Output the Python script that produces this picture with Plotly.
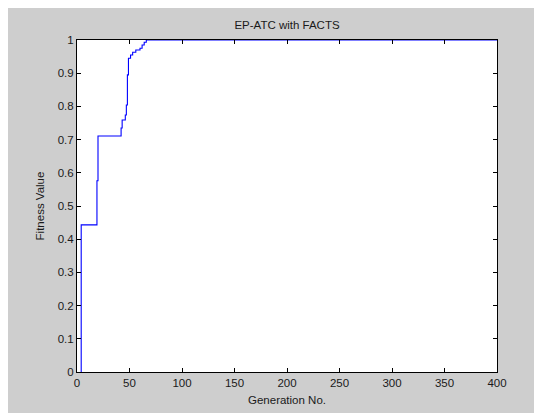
import plotly.graph_objects as go

# Data (step-wise best fitness per generation)
generation = [4, 4, 19, 20, 42, 43, 46, 47, 48, 49, 51, 53, 56, 60, 62, 64, 66, 400]
fitness = [0.0, 0.443, 0.576, 0.711, 0.735, 0.759, 0.774, 0.804, 0.895, 0.945,
           0.955, 0.963, 0.970, 0.975, 0.985, 0.993, 1.0, 1.0]

x_ticks = [0, 50, 100, 150, 200, 250, 300, 350, 400]
y_ticks = [0, 0.1, 0.2, 0.3, 0.4, 0.5, 0.6, 0.7, 0.8, 0.9, 1.0]
y_tick_labels = ["0", "0.1", "0.2", "0.3", "0.4", "0.5", "0.6", "0.7", "0.8", "0.9", "1"]

# page body adds an ~8px margin; figure sized to fill the rest
W, H = 534, 405
L, R, T, B = 69, 45, 32, 41

fig = go.Figure()
fig.add_trace(go.Scatter(
    x=generation, y=fitness, mode="lines", line_shape="hv",
    line=dict(color="#0000ff", width=1.1), showlegend=False, cliponaxis=False,
))

font = dict(family="Liberation Sans, Arial, sans-serif", size=11.5, color="#1a1a1a")
axis_common = dict(
    showline=True, linecolor="#000000", linewidth=1, mirror="ticks",
    ticks="inside", ticklen=4, tickcolor="#000000", showgrid=False, zeroline=False,
    tickfont=font, automargin=False,
)

fig.update_layout(
    width=W, height=H,
    margin=dict(l=L, r=R, t=T, b=B),
    paper_bgcolor="#cecece", plot_bgcolor="#ffffff",
    title=dict(text="EP-ATC with FACTS", x=0.5, xref="paper", xanchor="center",
               y=1 - 17 / H, yanchor="middle", font=font),
    xaxis=dict(range=[0, 400], tickvals=x_ticks, ticktext=[str(v) for v in x_ticks],
               title=dict(text="Generation No.", font=font, standoff=8), **axis_common),
    yaxis=dict(range=[0, 1], tickvals=y_ticks, ticktext=y_tick_labels,
               title=dict(text="Fitness Value", font=font, standoff=10), **axis_common),
    font=font,
)

fig.write_html("out.html")
